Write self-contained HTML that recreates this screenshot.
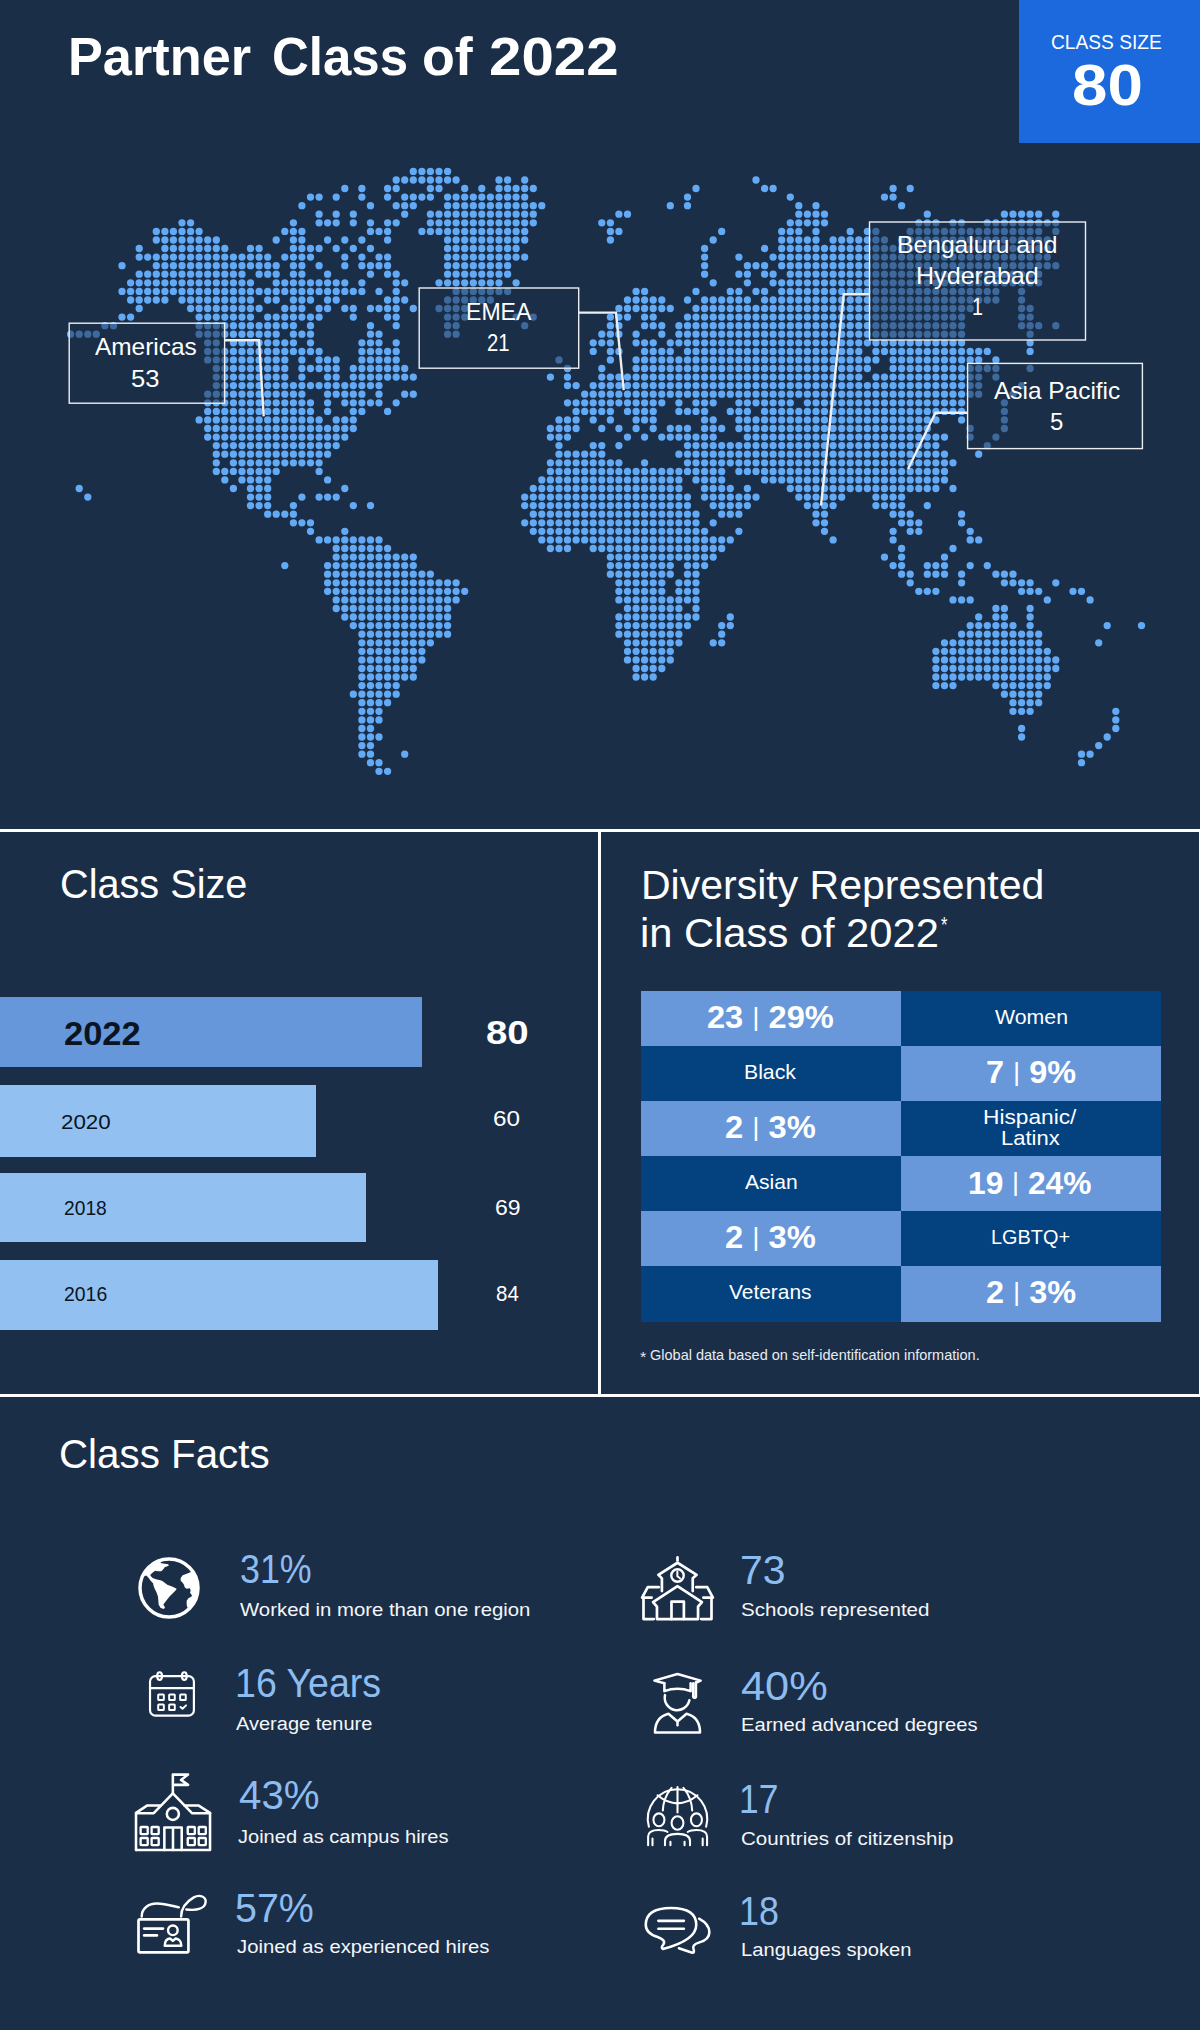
<!DOCTYPE html>
<html><head><meta charset="utf-8"><title>Partner Class of 2022</title>
<style>
html,body{margin:0;padding:0;}
body{width:1200px;height:2030px;position:relative;overflow:hidden;background:#1b2e48;font-family:"Liberation Sans",sans-serif;}
.t{position:absolute;line-height:1;white-space:nowrap;transform-origin:0 0;}
.r{position:absolute;}
.map{position:absolute;left:0;top:0;}
.ic{position:absolute;left:0;top:0;}
</style></head><body>
<div class="r" style="left:1019px;top:0px;width:181px;height:143px;background:#1b69dd;"></div>
<svg class="map" width="1200" height="830" viewBox="0 0 1200 830">
<path d="M413.3 171.4h0M421.9 171.4h0M430.4 171.4h0M439.0 171.4h0M447.6 171.4h0M396.2 180.0h0M404.7 180.0h0M413.3 180.0h0M421.9 180.0h0M430.4 180.0h0M439.0 180.0h0M447.6 180.0h0M456.1 180.0h0M499.0 180.0h0M507.6 180.0h0M524.7 180.0h0M756.0 180.0h0M344.8 188.5h0M361.9 188.5h0M387.6 188.5h0M396.2 188.5h0M430.4 188.5h0M439.0 188.5h0M464.7 188.5h0M481.8 188.5h0M499.0 188.5h0M507.6 188.5h0M516.1 188.5h0M524.7 188.5h0M533.3 188.5h0M696.0 188.5h0M764.6 188.5h0M773.1 188.5h0M893.1 188.5h0M910.2 188.5h0M310.5 197.1h0M319.1 197.1h0M336.2 197.1h0M361.9 197.1h0M387.6 197.1h0M404.7 197.1h0M413.3 197.1h0M421.9 197.1h0M430.4 197.1h0M447.6 197.1h0M456.1 197.1h0M464.7 197.1h0M473.3 197.1h0M481.8 197.1h0M490.4 197.1h0M499.0 197.1h0M507.6 197.1h0M516.1 197.1h0M524.7 197.1h0M687.5 197.1h0M790.3 197.1h0M884.5 197.1h0M893.1 197.1h0M301.9 205.7h0M370.5 205.7h0M396.2 205.7h0M404.7 205.7h0M413.3 205.7h0M447.6 205.7h0M456.1 205.7h0M464.7 205.7h0M473.3 205.7h0M481.8 205.7h0M490.4 205.7h0M499.0 205.7h0M507.6 205.7h0M516.1 205.7h0M524.7 205.7h0M533.3 205.7h0M541.8 205.7h0M670.3 205.7h0M687.5 205.7h0M798.8 205.7h0M816.0 205.7h0M901.6 205.7h0M319.1 214.2h0M336.2 214.2h0M353.3 214.2h0M404.7 214.2h0M430.4 214.2h0M439.0 214.2h0M447.6 214.2h0M456.1 214.2h0M464.7 214.2h0M473.3 214.2h0M481.8 214.2h0M490.4 214.2h0M499.0 214.2h0M507.6 214.2h0M516.1 214.2h0M524.7 214.2h0M533.3 214.2h0M618.9 214.2h0M627.5 214.2h0M798.8 214.2h0M807.4 214.2h0M816.0 214.2h0M824.5 214.2h0M927.3 214.2h0M1004.4 214.2h0M1013.0 214.2h0M1021.6 214.2h0M1030.1 214.2h0M1038.7 214.2h0M1055.8 214.2h0M182.0 222.8h0M190.6 222.8h0M293.4 222.8h0M319.1 222.8h0M327.6 222.8h0M336.2 222.8h0M353.3 222.8h0M370.5 222.8h0M387.6 222.8h0M396.2 222.8h0M430.4 222.8h0M439.0 222.8h0M447.6 222.8h0M456.1 222.8h0M464.7 222.8h0M473.3 222.8h0M481.8 222.8h0M490.4 222.8h0M499.0 222.8h0M507.6 222.8h0M516.1 222.8h0M524.7 222.8h0M533.3 222.8h0M601.8 222.8h0M610.4 222.8h0M790.3 222.8h0M798.8 222.8h0M807.4 222.8h0M816.0 222.8h0M824.5 222.8h0M918.8 222.8h0M927.3 222.8h0M935.9 222.8h0M953.0 222.8h0M961.6 222.8h0M987.3 222.8h0M995.9 222.8h0M1004.4 222.8h0M1013.0 222.8h0M1021.6 222.8h0M1030.1 222.8h0M1038.7 222.8h0M1047.3 222.8h0M1055.8 222.8h0M156.3 231.4h0M164.9 231.4h0M173.4 231.4h0M182.0 231.4h0M190.6 231.4h0M199.1 231.4h0M284.8 231.4h0M293.4 231.4h0M301.9 231.4h0M370.5 231.4h0M379.0 231.4h0M387.6 231.4h0M421.9 231.4h0M430.4 231.4h0M439.0 231.4h0M447.6 231.4h0M456.1 231.4h0M464.7 231.4h0M473.3 231.4h0M481.8 231.4h0M490.4 231.4h0M499.0 231.4h0M507.6 231.4h0M516.1 231.4h0M524.7 231.4h0M610.4 231.4h0M618.9 231.4h0M721.7 231.4h0M781.7 231.4h0M790.3 231.4h0M798.8 231.4h0M816.0 231.4h0M850.2 231.4h0M867.4 231.4h0M875.9 231.4h0M910.2 231.4h0M918.8 231.4h0M927.3 231.4h0M935.9 231.4h0M944.5 231.4h0M953.0 231.4h0M961.6 231.4h0M970.2 231.4h0M978.7 231.4h0M987.3 231.4h0M995.9 231.4h0M1004.4 231.4h0M1013.0 231.4h0M1021.6 231.4h0M1030.1 231.4h0M1038.7 231.4h0M1055.8 231.4h0M156.3 240.0h0M164.9 240.0h0M173.4 240.0h0M182.0 240.0h0M190.6 240.0h0M199.1 240.0h0M207.7 240.0h0M216.3 240.0h0M276.2 240.0h0M293.4 240.0h0M301.9 240.0h0M327.6 240.0h0M344.8 240.0h0M361.9 240.0h0M387.6 240.0h0M447.6 240.0h0M456.1 240.0h0M464.7 240.0h0M473.3 240.0h0M481.8 240.0h0M490.4 240.0h0M499.0 240.0h0M507.6 240.0h0M516.1 240.0h0M524.7 240.0h0M610.4 240.0h0M713.2 240.0h0M781.7 240.0h0M790.3 240.0h0M798.8 240.0h0M807.4 240.0h0M816.0 240.0h0M833.1 240.0h0M841.7 240.0h0M850.2 240.0h0M858.8 240.0h0M867.4 240.0h0M875.9 240.0h0M884.5 240.0h0M901.6 240.0h0M910.2 240.0h0M918.8 240.0h0M927.3 240.0h0M935.9 240.0h0M944.5 240.0h0M953.0 240.0h0M961.6 240.0h0M970.2 240.0h0M978.7 240.0h0M987.3 240.0h0M995.9 240.0h0M1004.4 240.0h0M1013.0 240.0h0M1021.6 240.0h0M1030.1 240.0h0M1038.7 240.0h0M1047.3 240.0h0M139.2 248.5h0M164.9 248.5h0M173.4 248.5h0M182.0 248.5h0M190.6 248.5h0M199.1 248.5h0M207.7 248.5h0M216.3 248.5h0M224.8 248.5h0M250.5 248.5h0M259.1 248.5h0M293.4 248.5h0M301.9 248.5h0M310.5 248.5h0M319.1 248.5h0M336.2 248.5h0M353.3 248.5h0M370.5 248.5h0M447.6 248.5h0M456.1 248.5h0M464.7 248.5h0M473.3 248.5h0M481.8 248.5h0M490.4 248.5h0M499.0 248.5h0M507.6 248.5h0M516.1 248.5h0M704.6 248.5h0M764.6 248.5h0M781.7 248.5h0M790.3 248.5h0M798.8 248.5h0M807.4 248.5h0M816.0 248.5h0M824.5 248.5h0M833.1 248.5h0M841.7 248.5h0M850.2 248.5h0M858.8 248.5h0M867.4 248.5h0M875.9 248.5h0M884.5 248.5h0M893.1 248.5h0M901.6 248.5h0M910.2 248.5h0M918.8 248.5h0M927.3 248.5h0M935.9 248.5h0M944.5 248.5h0M953.0 248.5h0M961.6 248.5h0M970.2 248.5h0M978.7 248.5h0M987.3 248.5h0M995.9 248.5h0M1004.4 248.5h0M1013.0 248.5h0M1021.6 248.5h0M1030.1 248.5h0M1038.7 248.5h0M1047.3 248.5h0M139.2 257.1h0M147.7 257.1h0M156.3 257.1h0M164.9 257.1h0M173.4 257.1h0M182.0 257.1h0M190.6 257.1h0M199.1 257.1h0M207.7 257.1h0M216.3 257.1h0M224.8 257.1h0M233.4 257.1h0M242.0 257.1h0M250.5 257.1h0M259.1 257.1h0M267.7 257.1h0M284.8 257.1h0M293.4 257.1h0M301.9 257.1h0M310.5 257.1h0M344.8 257.1h0M361.9 257.1h0M379.0 257.1h0M387.6 257.1h0M447.6 257.1h0M456.1 257.1h0M464.7 257.1h0M473.3 257.1h0M481.8 257.1h0M490.4 257.1h0M499.0 257.1h0M507.6 257.1h0M516.1 257.1h0M524.7 257.1h0M704.6 257.1h0M738.9 257.1h0M773.1 257.1h0M781.7 257.1h0M790.3 257.1h0M798.8 257.1h0M807.4 257.1h0M816.0 257.1h0M824.5 257.1h0M833.1 257.1h0M841.7 257.1h0M850.2 257.1h0M858.8 257.1h0M867.4 257.1h0M875.9 257.1h0M884.5 257.1h0M893.1 257.1h0M901.6 257.1h0M910.2 257.1h0M918.8 257.1h0M927.3 257.1h0M935.9 257.1h0M944.5 257.1h0M953.0 257.1h0M961.6 257.1h0M970.2 257.1h0M978.7 257.1h0M987.3 257.1h0M995.9 257.1h0M1004.4 257.1h0M1013.0 257.1h0M1021.6 257.1h0M1030.1 257.1h0M1038.7 257.1h0M1047.3 257.1h0M122.0 265.7h0M156.3 265.7h0M164.9 265.7h0M173.4 265.7h0M182.0 265.7h0M190.6 265.7h0M199.1 265.7h0M207.7 265.7h0M216.3 265.7h0M224.8 265.7h0M233.4 265.7h0M242.0 265.7h0M250.5 265.7h0M259.1 265.7h0M267.7 265.7h0M276.2 265.7h0M293.4 265.7h0M301.9 265.7h0M319.1 265.7h0M344.8 265.7h0M361.9 265.7h0M370.5 265.7h0M379.0 265.7h0M387.6 265.7h0M447.6 265.7h0M456.1 265.7h0M464.7 265.7h0M473.3 265.7h0M481.8 265.7h0M490.4 265.7h0M499.0 265.7h0M507.6 265.7h0M704.6 265.7h0M747.4 265.7h0M756.0 265.7h0M764.6 265.7h0M781.7 265.7h0M790.3 265.7h0M798.8 265.7h0M807.4 265.7h0M816.0 265.7h0M824.5 265.7h0M833.1 265.7h0M841.7 265.7h0M850.2 265.7h0M858.8 265.7h0M867.4 265.7h0M875.9 265.7h0M884.5 265.7h0M893.1 265.7h0M901.6 265.7h0M910.2 265.7h0M918.8 265.7h0M927.3 265.7h0M935.9 265.7h0M944.5 265.7h0M953.0 265.7h0M961.6 265.7h0M970.2 265.7h0M978.7 265.7h0M987.3 265.7h0M995.9 265.7h0M1004.4 265.7h0M1013.0 265.7h0M1021.6 265.7h0M1030.1 265.7h0M1038.7 265.7h0M1047.3 265.7h0M1055.8 265.7h0M139.2 274.2h0M147.7 274.2h0M156.3 274.2h0M164.9 274.2h0M173.4 274.2h0M182.0 274.2h0M190.6 274.2h0M199.1 274.2h0M207.7 274.2h0M216.3 274.2h0M224.8 274.2h0M233.4 274.2h0M242.0 274.2h0M259.1 274.2h0M267.7 274.2h0M276.2 274.2h0M293.4 274.2h0M301.9 274.2h0M327.6 274.2h0M370.5 274.2h0M387.6 274.2h0M396.2 274.2h0M447.6 274.2h0M456.1 274.2h0M464.7 274.2h0M473.3 274.2h0M481.8 274.2h0M490.4 274.2h0M499.0 274.2h0M507.6 274.2h0M704.6 274.2h0M738.9 274.2h0M747.4 274.2h0M764.6 274.2h0M773.1 274.2h0M790.3 274.2h0M798.8 274.2h0M807.4 274.2h0M816.0 274.2h0M824.5 274.2h0M833.1 274.2h0M841.7 274.2h0M850.2 274.2h0M858.8 274.2h0M867.4 274.2h0M875.9 274.2h0M884.5 274.2h0M893.1 274.2h0M901.6 274.2h0M910.2 274.2h0M918.8 274.2h0M927.3 274.2h0M935.9 274.2h0M944.5 274.2h0M953.0 274.2h0M961.6 274.2h0M970.2 274.2h0M978.7 274.2h0M987.3 274.2h0M995.9 274.2h0M1004.4 274.2h0M1013.0 274.2h0M1021.6 274.2h0M1030.1 274.2h0M1038.7 274.2h0M130.6 282.8h0M139.2 282.8h0M147.7 282.8h0M156.3 282.8h0M164.9 282.8h0M173.4 282.8h0M182.0 282.8h0M190.6 282.8h0M199.1 282.8h0M207.7 282.8h0M216.3 282.8h0M224.8 282.8h0M233.4 282.8h0M242.0 282.8h0M250.5 282.8h0M276.2 282.8h0M284.8 282.8h0M293.4 282.8h0M301.9 282.8h0M310.5 282.8h0M319.1 282.8h0M327.6 282.8h0M336.2 282.8h0M344.8 282.8h0M361.9 282.8h0M396.2 282.8h0M404.7 282.8h0M439.0 282.8h0M447.6 282.8h0M456.1 282.8h0M464.7 282.8h0M473.3 282.8h0M481.8 282.8h0M490.4 282.8h0M499.0 282.8h0M516.1 282.8h0M713.2 282.8h0M747.4 282.8h0M773.1 282.8h0M781.7 282.8h0M790.3 282.8h0M798.8 282.8h0M807.4 282.8h0M816.0 282.8h0M824.5 282.8h0M833.1 282.8h0M841.7 282.8h0M850.2 282.8h0M858.8 282.8h0M867.4 282.8h0M875.9 282.8h0M884.5 282.8h0M893.1 282.8h0M901.6 282.8h0M910.2 282.8h0M918.8 282.8h0M927.3 282.8h0M935.9 282.8h0M944.5 282.8h0M953.0 282.8h0M961.6 282.8h0M970.2 282.8h0M978.7 282.8h0M987.3 282.8h0M995.9 282.8h0M1004.4 282.8h0M1013.0 282.8h0M1021.6 282.8h0M1030.1 282.8h0M1038.7 282.8h0M122.0 291.4h0M130.6 291.4h0M139.2 291.4h0M147.7 291.4h0M156.3 291.4h0M164.9 291.4h0M173.4 291.4h0M182.0 291.4h0M190.6 291.4h0M199.1 291.4h0M207.7 291.4h0M216.3 291.4h0M224.8 291.4h0M233.4 291.4h0M242.0 291.4h0M250.5 291.4h0M259.1 291.4h0M267.7 291.4h0M276.2 291.4h0M284.8 291.4h0M293.4 291.4h0M301.9 291.4h0M310.5 291.4h0M319.1 291.4h0M327.6 291.4h0M336.2 291.4h0M344.8 291.4h0M353.3 291.4h0M361.9 291.4h0M379.0 291.4h0M396.2 291.4h0M456.1 291.4h0M464.7 291.4h0M473.3 291.4h0M481.8 291.4h0M490.4 291.4h0M499.0 291.4h0M507.6 291.4h0M636.1 291.4h0M644.6 291.4h0M696.0 291.4h0M730.3 291.4h0M738.9 291.4h0M756.0 291.4h0M764.6 291.4h0M781.7 291.4h0M790.3 291.4h0M798.8 291.4h0M807.4 291.4h0M816.0 291.4h0M824.5 291.4h0M833.1 291.4h0M841.7 291.4h0M850.2 291.4h0M858.8 291.4h0M867.4 291.4h0M875.9 291.4h0M884.5 291.4h0M893.1 291.4h0M901.6 291.4h0M910.2 291.4h0M918.8 291.4h0M927.3 291.4h0M935.9 291.4h0M944.5 291.4h0M953.0 291.4h0M961.6 291.4h0M970.2 291.4h0M978.7 291.4h0M987.3 291.4h0M995.9 291.4h0M1021.6 291.4h0M130.6 300.0h0M139.2 300.0h0M147.7 300.0h0M156.3 300.0h0M164.9 300.0h0M182.0 300.0h0M190.6 300.0h0M199.1 300.0h0M207.7 300.0h0M216.3 300.0h0M224.8 300.0h0M233.4 300.0h0M242.0 300.0h0M250.5 300.0h0M267.7 300.0h0M276.2 300.0h0M293.4 300.0h0M301.9 300.0h0M310.5 300.0h0M327.6 300.0h0M336.2 300.0h0M387.6 300.0h0M396.2 300.0h0M404.7 300.0h0M447.6 300.0h0M456.1 300.0h0M464.7 300.0h0M473.3 300.0h0M481.8 300.0h0M490.4 300.0h0M627.5 300.0h0M636.1 300.0h0M644.6 300.0h0M653.2 300.0h0M661.8 300.0h0M687.5 300.0h0M704.6 300.0h0M713.2 300.0h0M721.7 300.0h0M730.3 300.0h0M738.9 300.0h0M747.4 300.0h0M764.6 300.0h0M773.1 300.0h0M781.7 300.0h0M790.3 300.0h0M798.8 300.0h0M807.4 300.0h0M816.0 300.0h0M824.5 300.0h0M833.1 300.0h0M841.7 300.0h0M850.2 300.0h0M858.8 300.0h0M867.4 300.0h0M875.9 300.0h0M884.5 300.0h0M893.1 300.0h0M901.6 300.0h0M910.2 300.0h0M918.8 300.0h0M927.3 300.0h0M935.9 300.0h0M944.5 300.0h0M953.0 300.0h0M961.6 300.0h0M970.2 300.0h0M978.7 300.0h0M987.3 300.0h0M995.9 300.0h0M1021.6 300.0h0M139.2 308.5h0M190.6 308.5h0M199.1 308.5h0M207.7 308.5h0M216.3 308.5h0M224.8 308.5h0M233.4 308.5h0M242.0 308.5h0M250.5 308.5h0M259.1 308.5h0M284.8 308.5h0M293.4 308.5h0M301.9 308.5h0M319.1 308.5h0M327.6 308.5h0M344.8 308.5h0M353.3 308.5h0M370.5 308.5h0M379.0 308.5h0M387.6 308.5h0M396.2 308.5h0M413.3 308.5h0M439.0 308.5h0M447.6 308.5h0M456.1 308.5h0M464.7 308.5h0M618.9 308.5h0M627.5 308.5h0M636.1 308.5h0M644.6 308.5h0M653.2 308.5h0M661.8 308.5h0M670.3 308.5h0M696.0 308.5h0M704.6 308.5h0M713.2 308.5h0M721.7 308.5h0M730.3 308.5h0M738.9 308.5h0M747.4 308.5h0M756.0 308.5h0M764.6 308.5h0M773.1 308.5h0M781.7 308.5h0M790.3 308.5h0M798.8 308.5h0M807.4 308.5h0M816.0 308.5h0M824.5 308.5h0M833.1 308.5h0M841.7 308.5h0M850.2 308.5h0M858.8 308.5h0M867.4 308.5h0M875.9 308.5h0M884.5 308.5h0M893.1 308.5h0M901.6 308.5h0M910.2 308.5h0M918.8 308.5h0M927.3 308.5h0M935.9 308.5h0M944.5 308.5h0M953.0 308.5h0M961.6 308.5h0M970.2 308.5h0M1021.6 308.5h0M1030.1 308.5h0M122.0 317.1h0M130.6 317.1h0M199.1 317.1h0M207.7 317.1h0M216.3 317.1h0M224.8 317.1h0M233.4 317.1h0M242.0 317.1h0M250.5 317.1h0M267.7 317.1h0M276.2 317.1h0M284.8 317.1h0M293.4 317.1h0M301.9 317.1h0M310.5 317.1h0M319.1 317.1h0M353.3 317.1h0M387.6 317.1h0M396.2 317.1h0M447.6 317.1h0M456.1 317.1h0M464.7 317.1h0M516.1 317.1h0M533.3 317.1h0M610.4 317.1h0M618.9 317.1h0M627.5 317.1h0M644.6 317.1h0M653.2 317.1h0M687.5 317.1h0M696.0 317.1h0M704.6 317.1h0M713.2 317.1h0M721.7 317.1h0M730.3 317.1h0M738.9 317.1h0M747.4 317.1h0M756.0 317.1h0M764.6 317.1h0M773.1 317.1h0M781.7 317.1h0M790.3 317.1h0M798.8 317.1h0M807.4 317.1h0M816.0 317.1h0M824.5 317.1h0M833.1 317.1h0M841.7 317.1h0M850.2 317.1h0M858.8 317.1h0M867.4 317.1h0M875.9 317.1h0M884.5 317.1h0M893.1 317.1h0M901.6 317.1h0M910.2 317.1h0M918.8 317.1h0M927.3 317.1h0M935.9 317.1h0M944.5 317.1h0M953.0 317.1h0M961.6 317.1h0M1021.6 317.1h0M1030.1 317.1h0M104.9 325.7h0M113.5 325.7h0M199.1 325.7h0M207.7 325.7h0M216.3 325.7h0M224.8 325.7h0M233.4 325.7h0M242.0 325.7h0M250.5 325.7h0M259.1 325.7h0M267.7 325.7h0M276.2 325.7h0M284.8 325.7h0M293.4 325.7h0M310.5 325.7h0M370.5 325.7h0M396.2 325.7h0M447.6 325.7h0M456.1 325.7h0M524.7 325.7h0M610.4 325.7h0M618.9 325.7h0M644.6 325.7h0M653.2 325.7h0M661.8 325.7h0M678.9 325.7h0M687.5 325.7h0M696.0 325.7h0M704.6 325.7h0M713.2 325.7h0M721.7 325.7h0M730.3 325.7h0M738.9 325.7h0M747.4 325.7h0M756.0 325.7h0M764.6 325.7h0M773.1 325.7h0M781.7 325.7h0M790.3 325.7h0M798.8 325.7h0M807.4 325.7h0M816.0 325.7h0M824.5 325.7h0M833.1 325.7h0M841.7 325.7h0M850.2 325.7h0M858.8 325.7h0M867.4 325.7h0M875.9 325.7h0M884.5 325.7h0M893.1 325.7h0M901.6 325.7h0M910.2 325.7h0M918.8 325.7h0M927.3 325.7h0M935.9 325.7h0M944.5 325.7h0M953.0 325.7h0M961.6 325.7h0M1021.6 325.7h0M1030.1 325.7h0M1038.7 325.7h0M1055.8 325.7h0M70.6 334.2h0M79.2 334.2h0M87.8 334.2h0M96.3 334.2h0M199.1 334.2h0M207.7 334.2h0M216.3 334.2h0M224.8 334.2h0M233.4 334.2h0M242.0 334.2h0M250.5 334.2h0M259.1 334.2h0M267.7 334.2h0M276.2 334.2h0M293.4 334.2h0M301.9 334.2h0M310.5 334.2h0M370.5 334.2h0M379.0 334.2h0M447.6 334.2h0M456.1 334.2h0M601.8 334.2h0M610.4 334.2h0M618.9 334.2h0M636.1 334.2h0M661.8 334.2h0M678.9 334.2h0M687.5 334.2h0M696.0 334.2h0M704.6 334.2h0M713.2 334.2h0M721.7 334.2h0M730.3 334.2h0M738.9 334.2h0M747.4 334.2h0M756.0 334.2h0M764.6 334.2h0M773.1 334.2h0M781.7 334.2h0M790.3 334.2h0M798.8 334.2h0M807.4 334.2h0M816.0 334.2h0M824.5 334.2h0M833.1 334.2h0M841.7 334.2h0M850.2 334.2h0M858.8 334.2h0M867.4 334.2h0M875.9 334.2h0M884.5 334.2h0M893.1 334.2h0M901.6 334.2h0M910.2 334.2h0M918.8 334.2h0M927.3 334.2h0M935.9 334.2h0M944.5 334.2h0M953.0 334.2h0M961.6 334.2h0M1030.1 334.2h0M207.7 342.8h0M216.3 342.8h0M233.4 342.8h0M242.0 342.8h0M250.5 342.8h0M259.1 342.8h0M267.7 342.8h0M276.2 342.8h0M284.8 342.8h0M293.4 342.8h0M310.5 342.8h0M361.9 342.8h0M370.5 342.8h0M379.0 342.8h0M396.2 342.8h0M593.2 342.8h0M601.8 342.8h0M610.4 342.8h0M636.1 342.8h0M644.6 342.8h0M653.2 342.8h0M670.3 342.8h0M678.9 342.8h0M687.5 342.8h0M696.0 342.8h0M704.6 342.8h0M713.2 342.8h0M721.7 342.8h0M730.3 342.8h0M738.9 342.8h0M747.4 342.8h0M756.0 342.8h0M764.6 342.8h0M773.1 342.8h0M781.7 342.8h0M790.3 342.8h0M798.8 342.8h0M807.4 342.8h0M816.0 342.8h0M824.5 342.8h0M833.1 342.8h0M841.7 342.8h0M850.2 342.8h0M858.8 342.8h0M867.4 342.8h0M875.9 342.8h0M884.5 342.8h0M893.1 342.8h0M901.6 342.8h0M910.2 342.8h0M918.8 342.8h0M927.3 342.8h0M935.9 342.8h0M944.5 342.8h0M953.0 342.8h0M961.6 342.8h0M1030.1 342.8h0M207.7 351.4h0M216.3 351.4h0M224.8 351.4h0M233.4 351.4h0M242.0 351.4h0M250.5 351.4h0M259.1 351.4h0M267.7 351.4h0M276.2 351.4h0M284.8 351.4h0M293.4 351.4h0M301.9 351.4h0M310.5 351.4h0M319.1 351.4h0M361.9 351.4h0M370.5 351.4h0M379.0 351.4h0M387.6 351.4h0M396.2 351.4h0M593.2 351.4h0M610.4 351.4h0M618.9 351.4h0M644.6 351.4h0M653.2 351.4h0M661.8 351.4h0M670.3 351.4h0M687.5 351.4h0M696.0 351.4h0M704.6 351.4h0M713.2 351.4h0M721.7 351.4h0M730.3 351.4h0M738.9 351.4h0M747.4 351.4h0M756.0 351.4h0M764.6 351.4h0M773.1 351.4h0M781.7 351.4h0M790.3 351.4h0M798.8 351.4h0M807.4 351.4h0M816.0 351.4h0M824.5 351.4h0M833.1 351.4h0M841.7 351.4h0M850.2 351.4h0M858.8 351.4h0M875.9 351.4h0M884.5 351.4h0M893.1 351.4h0M901.6 351.4h0M910.2 351.4h0M918.8 351.4h0M927.3 351.4h0M935.9 351.4h0M944.5 351.4h0M953.0 351.4h0M961.6 351.4h0M970.2 351.4h0M978.7 351.4h0M987.3 351.4h0M1030.1 351.4h0M207.7 359.9h0M216.3 359.9h0M224.8 359.9h0M233.4 359.9h0M242.0 359.9h0M250.5 359.9h0M259.1 359.9h0M267.7 359.9h0M276.2 359.9h0M284.8 359.9h0M301.9 359.9h0M319.1 359.9h0M327.6 359.9h0M336.2 359.9h0M361.9 359.9h0M370.5 359.9h0M379.0 359.9h0M387.6 359.9h0M396.2 359.9h0M559.0 359.9h0M610.4 359.9h0M636.1 359.9h0M644.6 359.9h0M653.2 359.9h0M661.8 359.9h0M670.3 359.9h0M678.9 359.9h0M687.5 359.9h0M696.0 359.9h0M704.6 359.9h0M713.2 359.9h0M721.7 359.9h0M730.3 359.9h0M738.9 359.9h0M747.4 359.9h0M756.0 359.9h0M764.6 359.9h0M773.1 359.9h0M781.7 359.9h0M790.3 359.9h0M798.8 359.9h0M807.4 359.9h0M816.0 359.9h0M824.5 359.9h0M833.1 359.9h0M841.7 359.9h0M850.2 359.9h0M858.8 359.9h0M867.4 359.9h0M875.9 359.9h0M893.1 359.9h0M901.6 359.9h0M910.2 359.9h0M918.8 359.9h0M927.3 359.9h0M935.9 359.9h0M944.5 359.9h0M953.0 359.9h0M961.6 359.9h0M970.2 359.9h0M978.7 359.9h0M995.9 359.9h0M216.3 368.5h0M224.8 368.5h0M233.4 368.5h0M242.0 368.5h0M250.5 368.5h0M259.1 368.5h0M267.7 368.5h0M276.2 368.5h0M284.8 368.5h0M301.9 368.5h0M310.5 368.5h0M319.1 368.5h0M327.6 368.5h0M336.2 368.5h0M353.3 368.5h0M361.9 368.5h0M370.5 368.5h0M379.0 368.5h0M387.6 368.5h0M396.2 368.5h0M404.7 368.5h0M567.5 368.5h0M601.8 368.5h0M636.1 368.5h0M644.6 368.5h0M653.2 368.5h0M661.8 368.5h0M670.3 368.5h0M678.9 368.5h0M687.5 368.5h0M696.0 368.5h0M704.6 368.5h0M713.2 368.5h0M721.7 368.5h0M730.3 368.5h0M738.9 368.5h0M747.4 368.5h0M756.0 368.5h0M764.6 368.5h0M773.1 368.5h0M781.7 368.5h0M790.3 368.5h0M798.8 368.5h0M807.4 368.5h0M816.0 368.5h0M824.5 368.5h0M833.1 368.5h0M841.7 368.5h0M850.2 368.5h0M858.8 368.5h0M867.4 368.5h0M893.1 368.5h0M901.6 368.5h0M910.2 368.5h0M918.8 368.5h0M927.3 368.5h0M935.9 368.5h0M944.5 368.5h0M953.0 368.5h0M961.6 368.5h0M970.2 368.5h0M978.7 368.5h0M987.3 368.5h0M995.9 368.5h0M1030.1 368.5h0M216.3 377.1h0M224.8 377.1h0M233.4 377.1h0M242.0 377.1h0M250.5 377.1h0M259.1 377.1h0M267.7 377.1h0M276.2 377.1h0M284.8 377.1h0M301.9 377.1h0M327.6 377.1h0M336.2 377.1h0M353.3 377.1h0M361.9 377.1h0M370.5 377.1h0M379.0 377.1h0M387.6 377.1h0M396.2 377.1h0M404.7 377.1h0M413.3 377.1h0M550.4 377.1h0M567.5 377.1h0M601.8 377.1h0M610.4 377.1h0M618.9 377.1h0M627.5 377.1h0M636.1 377.1h0M644.6 377.1h0M653.2 377.1h0M661.8 377.1h0M670.3 377.1h0M678.9 377.1h0M687.5 377.1h0M696.0 377.1h0M704.6 377.1h0M713.2 377.1h0M721.7 377.1h0M730.3 377.1h0M738.9 377.1h0M747.4 377.1h0M756.0 377.1h0M764.6 377.1h0M773.1 377.1h0M781.7 377.1h0M790.3 377.1h0M798.8 377.1h0M807.4 377.1h0M816.0 377.1h0M824.5 377.1h0M833.1 377.1h0M841.7 377.1h0M850.2 377.1h0M858.8 377.1h0M875.9 377.1h0M884.5 377.1h0M893.1 377.1h0M901.6 377.1h0M910.2 377.1h0M918.8 377.1h0M927.3 377.1h0M935.9 377.1h0M944.5 377.1h0M953.0 377.1h0M961.6 377.1h0M970.2 377.1h0M978.7 377.1h0M995.9 377.1h0M216.3 385.6h0M224.8 385.6h0M233.4 385.6h0M242.0 385.6h0M250.5 385.6h0M259.1 385.6h0M267.7 385.6h0M276.2 385.6h0M284.8 385.6h0M293.4 385.6h0M301.9 385.6h0M310.5 385.6h0M319.1 385.6h0M327.6 385.6h0M336.2 385.6h0M344.8 385.6h0M353.3 385.6h0M361.9 385.6h0M370.5 385.6h0M379.0 385.6h0M567.5 385.6h0M576.1 385.6h0M593.2 385.6h0M601.8 385.6h0M610.4 385.6h0M618.9 385.6h0M627.5 385.6h0M636.1 385.6h0M644.6 385.6h0M653.2 385.6h0M661.8 385.6h0M670.3 385.6h0M678.9 385.6h0M687.5 385.6h0M696.0 385.6h0M704.6 385.6h0M713.2 385.6h0M721.7 385.6h0M730.3 385.6h0M738.9 385.6h0M747.4 385.6h0M756.0 385.6h0M764.6 385.6h0M773.1 385.6h0M781.7 385.6h0M790.3 385.6h0M798.8 385.6h0M807.4 385.6h0M816.0 385.6h0M824.5 385.6h0M833.1 385.6h0M841.7 385.6h0M850.2 385.6h0M858.8 385.6h0M867.4 385.6h0M875.9 385.6h0M884.5 385.6h0M893.1 385.6h0M901.6 385.6h0M910.2 385.6h0M918.8 385.6h0M927.3 385.6h0M935.9 385.6h0M944.5 385.6h0M953.0 385.6h0M961.6 385.6h0M970.2 385.6h0M978.7 385.6h0M1021.6 385.6h0M207.7 394.2h0M216.3 394.2h0M224.8 394.2h0M233.4 394.2h0M242.0 394.2h0M250.5 394.2h0M259.1 394.2h0M267.7 394.2h0M276.2 394.2h0M284.8 394.2h0M293.4 394.2h0M301.9 394.2h0M327.6 394.2h0M336.2 394.2h0M344.8 394.2h0M353.3 394.2h0M361.9 394.2h0M379.0 394.2h0M404.7 394.2h0M413.3 394.2h0M584.7 394.2h0M593.2 394.2h0M601.8 394.2h0M610.4 394.2h0M618.9 394.2h0M627.5 394.2h0M636.1 394.2h0M644.6 394.2h0M653.2 394.2h0M661.8 394.2h0M670.3 394.2h0M678.9 394.2h0M687.5 394.2h0M696.0 394.2h0M704.6 394.2h0M713.2 394.2h0M721.7 394.2h0M730.3 394.2h0M738.9 394.2h0M747.4 394.2h0M756.0 394.2h0M764.6 394.2h0M773.1 394.2h0M781.7 394.2h0M790.3 394.2h0M798.8 394.2h0M807.4 394.2h0M816.0 394.2h0M824.5 394.2h0M833.1 394.2h0M841.7 394.2h0M850.2 394.2h0M858.8 394.2h0M867.4 394.2h0M875.9 394.2h0M884.5 394.2h0M893.1 394.2h0M901.6 394.2h0M910.2 394.2h0M918.8 394.2h0M927.3 394.2h0M935.9 394.2h0M944.5 394.2h0M953.0 394.2h0M961.6 394.2h0M970.2 394.2h0M978.7 394.2h0M1013.0 394.2h0M207.7 402.8h0M216.3 402.8h0M224.8 402.8h0M233.4 402.8h0M242.0 402.8h0M250.5 402.8h0M259.1 402.8h0M267.7 402.8h0M276.2 402.8h0M284.8 402.8h0M293.4 402.8h0M301.9 402.8h0M310.5 402.8h0M327.6 402.8h0M344.8 402.8h0M353.3 402.8h0M361.9 402.8h0M370.5 402.8h0M379.0 402.8h0M396.2 402.8h0M567.5 402.8h0M576.1 402.8h0M584.7 402.8h0M593.2 402.8h0M601.8 402.8h0M610.4 402.8h0M618.9 402.8h0M627.5 402.8h0M636.1 402.8h0M644.6 402.8h0M653.2 402.8h0M661.8 402.8h0M678.9 402.8h0M696.0 402.8h0M704.6 402.8h0M713.2 402.8h0M738.9 402.8h0M747.4 402.8h0M756.0 402.8h0M764.6 402.8h0M773.1 402.8h0M781.7 402.8h0M790.3 402.8h0M807.4 402.8h0M816.0 402.8h0M824.5 402.8h0M833.1 402.8h0M841.7 402.8h0M850.2 402.8h0M858.8 402.8h0M867.4 402.8h0M875.9 402.8h0M884.5 402.8h0M893.1 402.8h0M901.6 402.8h0M910.2 402.8h0M918.8 402.8h0M927.3 402.8h0M935.9 402.8h0M944.5 402.8h0M953.0 402.8h0M961.6 402.8h0M1004.4 402.8h0M207.7 411.4h0M216.3 411.4h0M224.8 411.4h0M233.4 411.4h0M242.0 411.4h0M250.5 411.4h0M259.1 411.4h0M267.7 411.4h0M276.2 411.4h0M284.8 411.4h0M293.4 411.4h0M301.9 411.4h0M310.5 411.4h0M327.6 411.4h0M353.3 411.4h0M361.9 411.4h0M387.6 411.4h0M576.1 411.4h0M584.7 411.4h0M593.2 411.4h0M601.8 411.4h0M610.4 411.4h0M627.5 411.4h0M636.1 411.4h0M644.6 411.4h0M653.2 411.4h0M678.9 411.4h0M687.5 411.4h0M696.0 411.4h0M704.6 411.4h0M730.3 411.4h0M738.9 411.4h0M747.4 411.4h0M764.6 411.4h0M773.1 411.4h0M781.7 411.4h0M790.3 411.4h0M798.8 411.4h0M807.4 411.4h0M816.0 411.4h0M824.5 411.4h0M833.1 411.4h0M841.7 411.4h0M850.2 411.4h0M858.8 411.4h0M867.4 411.4h0M875.9 411.4h0M884.5 411.4h0M893.1 411.4h0M901.6 411.4h0M910.2 411.4h0M918.8 411.4h0M927.3 411.4h0M935.9 411.4h0M944.5 411.4h0M953.0 411.4h0M961.6 411.4h0M1004.4 411.4h0M199.1 419.9h0M207.7 419.9h0M216.3 419.9h0M224.8 419.9h0M233.4 419.9h0M242.0 419.9h0M250.5 419.9h0M259.1 419.9h0M267.7 419.9h0M276.2 419.9h0M284.8 419.9h0M293.4 419.9h0M301.9 419.9h0M310.5 419.9h0M319.1 419.9h0M336.2 419.9h0M344.8 419.9h0M353.3 419.9h0M559.0 419.9h0M567.5 419.9h0M576.1 419.9h0M593.2 419.9h0M610.4 419.9h0M636.1 419.9h0M644.6 419.9h0M653.2 419.9h0M704.6 419.9h0M713.2 419.9h0M738.9 419.9h0M747.4 419.9h0M756.0 419.9h0M764.6 419.9h0M773.1 419.9h0M781.7 419.9h0M790.3 419.9h0M798.8 419.9h0M807.4 419.9h0M816.0 419.9h0M824.5 419.9h0M833.1 419.9h0M841.7 419.9h0M850.2 419.9h0M858.8 419.9h0M867.4 419.9h0M875.9 419.9h0M884.5 419.9h0M893.1 419.9h0M901.6 419.9h0M910.2 419.9h0M918.8 419.9h0M927.3 419.9h0M935.9 419.9h0M961.6 419.9h0M1004.4 419.9h0M207.7 428.5h0M216.3 428.5h0M224.8 428.5h0M233.4 428.5h0M242.0 428.5h0M250.5 428.5h0M259.1 428.5h0M267.7 428.5h0M276.2 428.5h0M284.8 428.5h0M293.4 428.5h0M301.9 428.5h0M310.5 428.5h0M319.1 428.5h0M327.6 428.5h0M336.2 428.5h0M344.8 428.5h0M353.3 428.5h0M550.4 428.5h0M559.0 428.5h0M567.5 428.5h0M576.1 428.5h0M601.8 428.5h0M618.9 428.5h0M636.1 428.5h0M653.2 428.5h0M670.3 428.5h0M678.9 428.5h0M687.5 428.5h0M704.6 428.5h0M713.2 428.5h0M721.7 428.5h0M738.9 428.5h0M747.4 428.5h0M756.0 428.5h0M764.6 428.5h0M773.1 428.5h0M781.7 428.5h0M790.3 428.5h0M798.8 428.5h0M807.4 428.5h0M816.0 428.5h0M824.5 428.5h0M833.1 428.5h0M841.7 428.5h0M850.2 428.5h0M858.8 428.5h0M867.4 428.5h0M875.9 428.5h0M884.5 428.5h0M893.1 428.5h0M901.6 428.5h0M910.2 428.5h0M918.8 428.5h0M927.3 428.5h0M970.2 428.5h0M1004.4 428.5h0M207.7 437.1h0M216.3 437.1h0M224.8 437.1h0M233.4 437.1h0M242.0 437.1h0M250.5 437.1h0M259.1 437.1h0M267.7 437.1h0M276.2 437.1h0M284.8 437.1h0M293.4 437.1h0M301.9 437.1h0M310.5 437.1h0M319.1 437.1h0M327.6 437.1h0M336.2 437.1h0M344.8 437.1h0M550.4 437.1h0M559.0 437.1h0M567.5 437.1h0M627.5 437.1h0M644.6 437.1h0M661.8 437.1h0M670.3 437.1h0M678.9 437.1h0M687.5 437.1h0M696.0 437.1h0M704.6 437.1h0M713.2 437.1h0M747.4 437.1h0M756.0 437.1h0M764.6 437.1h0M773.1 437.1h0M781.7 437.1h0M790.3 437.1h0M798.8 437.1h0M807.4 437.1h0M816.0 437.1h0M824.5 437.1h0M833.1 437.1h0M841.7 437.1h0M850.2 437.1h0M858.8 437.1h0M867.4 437.1h0M875.9 437.1h0M884.5 437.1h0M893.1 437.1h0M901.6 437.1h0M910.2 437.1h0M918.8 437.1h0M927.3 437.1h0M935.9 437.1h0M944.5 437.1h0M970.2 437.1h0M995.9 437.1h0M216.3 445.6h0M224.8 445.6h0M233.4 445.6h0M242.0 445.6h0M250.5 445.6h0M259.1 445.6h0M267.7 445.6h0M276.2 445.6h0M284.8 445.6h0M293.4 445.6h0M301.9 445.6h0M310.5 445.6h0M319.1 445.6h0M327.6 445.6h0M336.2 445.6h0M559.0 445.6h0M593.2 445.6h0M601.8 445.6h0M618.9 445.6h0M687.5 445.6h0M696.0 445.6h0M704.6 445.6h0M713.2 445.6h0M721.7 445.6h0M730.3 445.6h0M738.9 445.6h0M747.4 445.6h0M756.0 445.6h0M764.6 445.6h0M773.1 445.6h0M781.7 445.6h0M790.3 445.6h0M798.8 445.6h0M807.4 445.6h0M816.0 445.6h0M824.5 445.6h0M833.1 445.6h0M841.7 445.6h0M850.2 445.6h0M858.8 445.6h0M867.4 445.6h0M875.9 445.6h0M884.5 445.6h0M893.1 445.6h0M901.6 445.6h0M910.2 445.6h0M918.8 445.6h0M927.3 445.6h0M935.9 445.6h0M987.3 445.6h0M216.3 454.2h0M224.8 454.2h0M233.4 454.2h0M242.0 454.2h0M250.5 454.2h0M259.1 454.2h0M267.7 454.2h0M276.2 454.2h0M284.8 454.2h0M293.4 454.2h0M301.9 454.2h0M310.5 454.2h0M319.1 454.2h0M327.6 454.2h0M559.0 454.2h0M567.5 454.2h0M576.1 454.2h0M584.7 454.2h0M593.2 454.2h0M601.8 454.2h0M678.9 454.2h0M687.5 454.2h0M696.0 454.2h0M704.6 454.2h0M713.2 454.2h0M721.7 454.2h0M730.3 454.2h0M738.9 454.2h0M747.4 454.2h0M756.0 454.2h0M764.6 454.2h0M773.1 454.2h0M781.7 454.2h0M790.3 454.2h0M798.8 454.2h0M807.4 454.2h0M816.0 454.2h0M824.5 454.2h0M833.1 454.2h0M841.7 454.2h0M850.2 454.2h0M858.8 454.2h0M867.4 454.2h0M875.9 454.2h0M884.5 454.2h0M893.1 454.2h0M901.6 454.2h0M910.2 454.2h0M918.8 454.2h0M927.3 454.2h0M935.9 454.2h0M944.5 454.2h0M978.7 454.2h0M216.3 462.8h0M233.4 462.8h0M242.0 462.8h0M250.5 462.8h0M259.1 462.8h0M267.7 462.8h0M276.2 462.8h0M284.8 462.8h0M293.4 462.8h0M301.9 462.8h0M310.5 462.8h0M319.1 462.8h0M550.4 462.8h0M559.0 462.8h0M567.5 462.8h0M576.1 462.8h0M584.7 462.8h0M593.2 462.8h0M601.8 462.8h0M610.4 462.8h0M618.9 462.8h0M644.6 462.8h0M687.5 462.8h0M696.0 462.8h0M704.6 462.8h0M713.2 462.8h0M721.7 462.8h0M730.3 462.8h0M738.9 462.8h0M747.4 462.8h0M756.0 462.8h0M764.6 462.8h0M773.1 462.8h0M781.7 462.8h0M790.3 462.8h0M798.8 462.8h0M807.4 462.8h0M816.0 462.8h0M824.5 462.8h0M833.1 462.8h0M841.7 462.8h0M850.2 462.8h0M858.8 462.8h0M867.4 462.8h0M875.9 462.8h0M884.5 462.8h0M893.1 462.8h0M901.6 462.8h0M910.2 462.8h0M918.8 462.8h0M927.3 462.8h0M935.9 462.8h0M944.5 462.8h0M953.0 462.8h0M216.3 471.4h0M224.8 471.4h0M233.4 471.4h0M242.0 471.4h0M250.5 471.4h0M259.1 471.4h0M267.7 471.4h0M276.2 471.4h0M319.1 471.4h0M550.4 471.4h0M559.0 471.4h0M567.5 471.4h0M576.1 471.4h0M584.7 471.4h0M593.2 471.4h0M601.8 471.4h0M610.4 471.4h0M618.9 471.4h0M627.5 471.4h0M636.1 471.4h0M644.6 471.4h0M653.2 471.4h0M661.8 471.4h0M670.3 471.4h0M678.9 471.4h0M687.5 471.4h0M696.0 471.4h0M704.6 471.4h0M713.2 471.4h0M721.7 471.4h0M738.9 471.4h0M747.4 471.4h0M756.0 471.4h0M764.6 471.4h0M773.1 471.4h0M781.7 471.4h0M790.3 471.4h0M798.8 471.4h0M807.4 471.4h0M816.0 471.4h0M824.5 471.4h0M833.1 471.4h0M841.7 471.4h0M850.2 471.4h0M858.8 471.4h0M867.4 471.4h0M875.9 471.4h0M884.5 471.4h0M893.1 471.4h0M901.6 471.4h0M910.2 471.4h0M918.8 471.4h0M927.3 471.4h0M935.9 471.4h0M944.5 471.4h0M224.8 479.9h0M242.0 479.9h0M250.5 479.9h0M259.1 479.9h0M267.7 479.9h0M327.6 479.9h0M541.8 479.9h0M550.4 479.9h0M559.0 479.9h0M567.5 479.9h0M576.1 479.9h0M584.7 479.9h0M593.2 479.9h0M601.8 479.9h0M610.4 479.9h0M618.9 479.9h0M627.5 479.9h0M636.1 479.9h0M644.6 479.9h0M653.2 479.9h0M661.8 479.9h0M670.3 479.9h0M678.9 479.9h0M696.0 479.9h0M704.6 479.9h0M713.2 479.9h0M721.7 479.9h0M764.6 479.9h0M773.1 479.9h0M781.7 479.9h0M790.3 479.9h0M798.8 479.9h0M807.4 479.9h0M816.0 479.9h0M824.5 479.9h0M833.1 479.9h0M841.7 479.9h0M850.2 479.9h0M858.8 479.9h0M867.4 479.9h0M875.9 479.9h0M884.5 479.9h0M893.1 479.9h0M901.6 479.9h0M910.2 479.9h0M918.8 479.9h0M927.3 479.9h0M935.9 479.9h0M944.5 479.9h0M79.2 488.5h0M233.4 488.5h0M250.5 488.5h0M259.1 488.5h0M267.7 488.5h0M344.8 488.5h0M533.3 488.5h0M541.8 488.5h0M550.4 488.5h0M559.0 488.5h0M567.5 488.5h0M576.1 488.5h0M584.7 488.5h0M593.2 488.5h0M601.8 488.5h0M610.4 488.5h0M618.9 488.5h0M627.5 488.5h0M636.1 488.5h0M644.6 488.5h0M653.2 488.5h0M661.8 488.5h0M670.3 488.5h0M678.9 488.5h0M704.6 488.5h0M713.2 488.5h0M721.7 488.5h0M730.3 488.5h0M747.4 488.5h0M790.3 488.5h0M798.8 488.5h0M807.4 488.5h0M816.0 488.5h0M824.5 488.5h0M833.1 488.5h0M841.7 488.5h0M850.2 488.5h0M858.8 488.5h0M867.4 488.5h0M875.9 488.5h0M884.5 488.5h0M893.1 488.5h0M901.6 488.5h0M910.2 488.5h0M918.8 488.5h0M927.3 488.5h0M935.9 488.5h0M953.0 488.5h0M87.8 497.1h0M250.5 497.1h0M259.1 497.1h0M267.7 497.1h0M301.9 497.1h0M319.1 497.1h0M327.6 497.1h0M336.2 497.1h0M524.7 497.1h0M533.3 497.1h0M541.8 497.1h0M550.4 497.1h0M559.0 497.1h0M567.5 497.1h0M576.1 497.1h0M584.7 497.1h0M593.2 497.1h0M601.8 497.1h0M610.4 497.1h0M618.9 497.1h0M627.5 497.1h0M636.1 497.1h0M644.6 497.1h0M653.2 497.1h0M661.8 497.1h0M670.3 497.1h0M678.9 497.1h0M687.5 497.1h0M704.6 497.1h0M713.2 497.1h0M721.7 497.1h0M730.3 497.1h0M738.9 497.1h0M747.4 497.1h0M756.0 497.1h0M798.8 497.1h0M807.4 497.1h0M816.0 497.1h0M824.5 497.1h0M833.1 497.1h0M841.7 497.1h0M875.9 497.1h0M884.5 497.1h0M893.1 497.1h0M901.6 497.1h0M250.5 505.6h0M259.1 505.6h0M267.7 505.6h0M293.4 505.6h0M353.3 505.6h0M370.5 505.6h0M524.7 505.6h0M533.3 505.6h0M541.8 505.6h0M550.4 505.6h0M559.0 505.6h0M567.5 505.6h0M576.1 505.6h0M584.7 505.6h0M593.2 505.6h0M601.8 505.6h0M610.4 505.6h0M618.9 505.6h0M627.5 505.6h0M636.1 505.6h0M644.6 505.6h0M653.2 505.6h0M661.8 505.6h0M670.3 505.6h0M678.9 505.6h0M687.5 505.6h0M713.2 505.6h0M721.7 505.6h0M730.3 505.6h0M738.9 505.6h0M747.4 505.6h0M807.4 505.6h0M816.0 505.6h0M824.5 505.6h0M833.1 505.6h0M875.9 505.6h0M884.5 505.6h0M893.1 505.6h0M901.6 505.6h0M927.3 505.6h0M267.7 514.2h0M276.2 514.2h0M284.8 514.2h0M293.4 514.2h0M533.3 514.2h0M541.8 514.2h0M550.4 514.2h0M559.0 514.2h0M567.5 514.2h0M576.1 514.2h0M584.7 514.2h0M593.2 514.2h0M601.8 514.2h0M610.4 514.2h0M618.9 514.2h0M627.5 514.2h0M636.1 514.2h0M644.6 514.2h0M653.2 514.2h0M661.8 514.2h0M670.3 514.2h0M678.9 514.2h0M687.5 514.2h0M696.0 514.2h0M721.7 514.2h0M730.3 514.2h0M738.9 514.2h0M816.0 514.2h0M824.5 514.2h0M893.1 514.2h0M901.6 514.2h0M910.2 514.2h0M961.6 514.2h0M293.4 522.8h0M301.9 522.8h0M310.5 522.8h0M524.7 522.8h0M533.3 522.8h0M541.8 522.8h0M550.4 522.8h0M559.0 522.8h0M567.5 522.8h0M576.1 522.8h0M584.7 522.8h0M593.2 522.8h0M601.8 522.8h0M610.4 522.8h0M618.9 522.8h0M627.5 522.8h0M636.1 522.8h0M644.6 522.8h0M653.2 522.8h0M661.8 522.8h0M670.3 522.8h0M678.9 522.8h0M687.5 522.8h0M696.0 522.8h0M713.2 522.8h0M816.0 522.8h0M824.5 522.8h0M901.6 522.8h0M910.2 522.8h0M918.8 522.8h0M961.6 522.8h0M310.5 531.3h0M344.8 531.3h0M533.3 531.3h0M541.8 531.3h0M550.4 531.3h0M559.0 531.3h0M567.5 531.3h0M576.1 531.3h0M584.7 531.3h0M593.2 531.3h0M601.8 531.3h0M610.4 531.3h0M618.9 531.3h0M627.5 531.3h0M636.1 531.3h0M644.6 531.3h0M653.2 531.3h0M661.8 531.3h0M670.3 531.3h0M678.9 531.3h0M687.5 531.3h0M696.0 531.3h0M704.6 531.3h0M738.9 531.3h0M824.5 531.3h0M893.1 531.3h0M910.2 531.3h0M918.8 531.3h0M970.2 531.3h0M319.1 539.9h0M327.6 539.9h0M336.2 539.9h0M344.8 539.9h0M353.3 539.9h0M361.9 539.9h0M370.5 539.9h0M379.0 539.9h0M541.8 539.9h0M550.4 539.9h0M559.0 539.9h0M567.5 539.9h0M576.1 539.9h0M584.7 539.9h0M593.2 539.9h0M601.8 539.9h0M610.4 539.9h0M618.9 539.9h0M627.5 539.9h0M636.1 539.9h0M644.6 539.9h0M653.2 539.9h0M661.8 539.9h0M670.3 539.9h0M678.9 539.9h0M687.5 539.9h0M696.0 539.9h0M704.6 539.9h0M713.2 539.9h0M721.7 539.9h0M730.3 539.9h0M833.1 539.9h0M893.1 539.9h0M970.2 539.9h0M978.7 539.9h0M336.2 548.5h0M344.8 548.5h0M353.3 548.5h0M361.9 548.5h0M370.5 548.5h0M379.0 548.5h0M387.6 548.5h0M550.4 548.5h0M559.0 548.5h0M567.5 548.5h0M593.2 548.5h0M601.8 548.5h0M610.4 548.5h0M618.9 548.5h0M627.5 548.5h0M636.1 548.5h0M644.6 548.5h0M653.2 548.5h0M661.8 548.5h0M670.3 548.5h0M678.9 548.5h0M687.5 548.5h0M696.0 548.5h0M704.6 548.5h0M713.2 548.5h0M721.7 548.5h0M901.6 548.5h0M953.0 548.5h0M336.2 557.1h0M344.8 557.1h0M353.3 557.1h0M361.9 557.1h0M370.5 557.1h0M379.0 557.1h0M387.6 557.1h0M396.2 557.1h0M404.7 557.1h0M413.3 557.1h0M610.4 557.1h0M618.9 557.1h0M627.5 557.1h0M636.1 557.1h0M644.6 557.1h0M653.2 557.1h0M661.8 557.1h0M670.3 557.1h0M678.9 557.1h0M687.5 557.1h0M696.0 557.1h0M704.6 557.1h0M713.2 557.1h0M884.5 557.1h0M901.6 557.1h0M944.5 557.1h0M284.8 565.6h0M327.6 565.6h0M336.2 565.6h0M344.8 565.6h0M353.3 565.6h0M361.9 565.6h0M370.5 565.6h0M379.0 565.6h0M387.6 565.6h0M396.2 565.6h0M404.7 565.6h0M413.3 565.6h0M610.4 565.6h0M618.9 565.6h0M627.5 565.6h0M636.1 565.6h0M644.6 565.6h0M653.2 565.6h0M661.8 565.6h0M670.3 565.6h0M687.5 565.6h0M696.0 565.6h0M704.6 565.6h0M893.1 565.6h0M901.6 565.6h0M927.3 565.6h0M935.9 565.6h0M944.5 565.6h0M970.2 565.6h0M987.3 565.6h0M327.6 574.2h0M336.2 574.2h0M344.8 574.2h0M353.3 574.2h0M361.9 574.2h0M370.5 574.2h0M379.0 574.2h0M387.6 574.2h0M396.2 574.2h0M404.7 574.2h0M413.3 574.2h0M421.9 574.2h0M430.4 574.2h0M610.4 574.2h0M618.9 574.2h0M627.5 574.2h0M636.1 574.2h0M644.6 574.2h0M653.2 574.2h0M661.8 574.2h0M670.3 574.2h0M687.5 574.2h0M696.0 574.2h0M901.6 574.2h0M910.2 574.2h0M927.3 574.2h0M935.9 574.2h0M944.5 574.2h0M961.6 574.2h0M995.9 574.2h0M1004.4 574.2h0M1013.0 574.2h0M327.6 582.8h0M336.2 582.8h0M344.8 582.8h0M353.3 582.8h0M361.9 582.8h0M370.5 582.8h0M379.0 582.8h0M387.6 582.8h0M396.2 582.8h0M404.7 582.8h0M413.3 582.8h0M421.9 582.8h0M430.4 582.8h0M439.0 582.8h0M447.6 582.8h0M456.1 582.8h0M618.9 582.8h0M627.5 582.8h0M636.1 582.8h0M644.6 582.8h0M653.2 582.8h0M661.8 582.8h0M678.9 582.8h0M687.5 582.8h0M696.0 582.8h0M910.2 582.8h0M961.6 582.8h0M1004.4 582.8h0M1013.0 582.8h0M1021.6 582.8h0M1030.1 582.8h0M1055.8 582.8h0M327.6 591.3h0M336.2 591.3h0M344.8 591.3h0M353.3 591.3h0M361.9 591.3h0M370.5 591.3h0M379.0 591.3h0M387.6 591.3h0M396.2 591.3h0M404.7 591.3h0M413.3 591.3h0M421.9 591.3h0M430.4 591.3h0M439.0 591.3h0M447.6 591.3h0M456.1 591.3h0M464.7 591.3h0M618.9 591.3h0M627.5 591.3h0M636.1 591.3h0M644.6 591.3h0M653.2 591.3h0M661.8 591.3h0M678.9 591.3h0M687.5 591.3h0M696.0 591.3h0M918.8 591.3h0M927.3 591.3h0M935.9 591.3h0M1021.6 591.3h0M1030.1 591.3h0M1038.7 591.3h0M1073.0 591.3h0M1081.5 591.3h0M336.2 599.9h0M344.8 599.9h0M353.3 599.9h0M361.9 599.9h0M370.5 599.9h0M379.0 599.9h0M387.6 599.9h0M396.2 599.9h0M404.7 599.9h0M413.3 599.9h0M421.9 599.9h0M430.4 599.9h0M439.0 599.9h0M447.6 599.9h0M456.1 599.9h0M618.9 599.9h0M627.5 599.9h0M636.1 599.9h0M644.6 599.9h0M653.2 599.9h0M661.8 599.9h0M670.3 599.9h0M678.9 599.9h0M687.5 599.9h0M696.0 599.9h0M953.0 599.9h0M961.6 599.9h0M970.2 599.9h0M1047.3 599.9h0M1090.1 599.9h0M336.2 608.5h0M344.8 608.5h0M353.3 608.5h0M361.9 608.5h0M370.5 608.5h0M379.0 608.5h0M387.6 608.5h0M396.2 608.5h0M404.7 608.5h0M413.3 608.5h0M421.9 608.5h0M430.4 608.5h0M439.0 608.5h0M447.6 608.5h0M627.5 608.5h0M636.1 608.5h0M644.6 608.5h0M653.2 608.5h0M661.8 608.5h0M670.3 608.5h0M678.9 608.5h0M696.0 608.5h0M995.9 608.5h0M1004.4 608.5h0M1030.1 608.5h0M344.8 617.0h0M353.3 617.0h0M361.9 617.0h0M370.5 617.0h0M379.0 617.0h0M387.6 617.0h0M396.2 617.0h0M404.7 617.0h0M413.3 617.0h0M421.9 617.0h0M430.4 617.0h0M439.0 617.0h0M447.6 617.0h0M618.9 617.0h0M627.5 617.0h0M636.1 617.0h0M644.6 617.0h0M653.2 617.0h0M661.8 617.0h0M670.3 617.0h0M678.9 617.0h0M687.5 617.0h0M696.0 617.0h0M730.3 617.0h0M978.7 617.0h0M995.9 617.0h0M1004.4 617.0h0M1030.1 617.0h0M353.3 625.6h0M361.9 625.6h0M370.5 625.6h0M379.0 625.6h0M387.6 625.6h0M396.2 625.6h0M404.7 625.6h0M413.3 625.6h0M421.9 625.6h0M430.4 625.6h0M439.0 625.6h0M447.6 625.6h0M618.9 625.6h0M627.5 625.6h0M636.1 625.6h0M644.6 625.6h0M653.2 625.6h0M661.8 625.6h0M670.3 625.6h0M678.9 625.6h0M687.5 625.6h0M721.7 625.6h0M730.3 625.6h0M970.2 625.6h0M978.7 625.6h0M987.3 625.6h0M995.9 625.6h0M1004.4 625.6h0M1013.0 625.6h0M1030.1 625.6h0M1107.2 625.6h0M1141.5 625.6h0M361.9 634.2h0M370.5 634.2h0M379.0 634.2h0M387.6 634.2h0M396.2 634.2h0M404.7 634.2h0M413.3 634.2h0M421.9 634.2h0M430.4 634.2h0M439.0 634.2h0M447.6 634.2h0M618.9 634.2h0M627.5 634.2h0M636.1 634.2h0M644.6 634.2h0M653.2 634.2h0M661.8 634.2h0M670.3 634.2h0M678.9 634.2h0M721.7 634.2h0M961.6 634.2h0M970.2 634.2h0M978.7 634.2h0M987.3 634.2h0M995.9 634.2h0M1004.4 634.2h0M1013.0 634.2h0M1021.6 634.2h0M1030.1 634.2h0M1038.7 634.2h0M361.9 642.8h0M370.5 642.8h0M379.0 642.8h0M387.6 642.8h0M396.2 642.8h0M404.7 642.8h0M413.3 642.8h0M421.9 642.8h0M430.4 642.8h0M627.5 642.8h0M636.1 642.8h0M644.6 642.8h0M653.2 642.8h0M661.8 642.8h0M670.3 642.8h0M678.9 642.8h0M713.2 642.8h0M721.7 642.8h0M944.5 642.8h0M953.0 642.8h0M961.6 642.8h0M970.2 642.8h0M978.7 642.8h0M987.3 642.8h0M995.9 642.8h0M1004.4 642.8h0M1013.0 642.8h0M1021.6 642.8h0M1030.1 642.8h0M1038.7 642.8h0M1098.7 642.8h0M361.9 651.3h0M370.5 651.3h0M379.0 651.3h0M387.6 651.3h0M396.2 651.3h0M404.7 651.3h0M413.3 651.3h0M421.9 651.3h0M627.5 651.3h0M636.1 651.3h0M644.6 651.3h0M653.2 651.3h0M661.8 651.3h0M670.3 651.3h0M935.9 651.3h0M944.5 651.3h0M953.0 651.3h0M961.6 651.3h0M970.2 651.3h0M978.7 651.3h0M987.3 651.3h0M995.9 651.3h0M1004.4 651.3h0M1013.0 651.3h0M1021.6 651.3h0M1030.1 651.3h0M1038.7 651.3h0M1047.3 651.3h0M361.9 659.9h0M370.5 659.9h0M379.0 659.9h0M387.6 659.9h0M396.2 659.9h0M404.7 659.9h0M413.3 659.9h0M421.9 659.9h0M627.5 659.9h0M636.1 659.9h0M644.6 659.9h0M653.2 659.9h0M661.8 659.9h0M670.3 659.9h0M935.9 659.9h0M944.5 659.9h0M953.0 659.9h0M961.6 659.9h0M970.2 659.9h0M978.7 659.9h0M987.3 659.9h0M995.9 659.9h0M1004.4 659.9h0M1013.0 659.9h0M1021.6 659.9h0M1030.1 659.9h0M1038.7 659.9h0M1047.3 659.9h0M1055.8 659.9h0M361.9 668.5h0M370.5 668.5h0M379.0 668.5h0M387.6 668.5h0M396.2 668.5h0M404.7 668.5h0M413.3 668.5h0M636.1 668.5h0M644.6 668.5h0M653.2 668.5h0M661.8 668.5h0M935.9 668.5h0M944.5 668.5h0M953.0 668.5h0M961.6 668.5h0M970.2 668.5h0M978.7 668.5h0M987.3 668.5h0M995.9 668.5h0M1004.4 668.5h0M1013.0 668.5h0M1021.6 668.5h0M1030.1 668.5h0M1038.7 668.5h0M1047.3 668.5h0M1055.8 668.5h0M361.9 677.0h0M370.5 677.0h0M379.0 677.0h0M387.6 677.0h0M396.2 677.0h0M404.7 677.0h0M413.3 677.0h0M636.1 677.0h0M644.6 677.0h0M653.2 677.0h0M935.9 677.0h0M944.5 677.0h0M953.0 677.0h0M961.6 677.0h0M970.2 677.0h0M978.7 677.0h0M987.3 677.0h0M995.9 677.0h0M1004.4 677.0h0M1013.0 677.0h0M1021.6 677.0h0M1030.1 677.0h0M1038.7 677.0h0M1047.3 677.0h0M361.9 685.6h0M370.5 685.6h0M379.0 685.6h0M387.6 685.6h0M396.2 685.6h0M935.9 685.6h0M944.5 685.6h0M953.0 685.6h0M995.9 685.6h0M1004.4 685.6h0M1013.0 685.6h0M1021.6 685.6h0M1030.1 685.6h0M1038.7 685.6h0M1047.3 685.6h0M353.3 694.2h0M361.9 694.2h0M370.5 694.2h0M379.0 694.2h0M387.6 694.2h0M396.2 694.2h0M1004.4 694.2h0M1013.0 694.2h0M1021.6 694.2h0M1030.1 694.2h0M1038.7 694.2h0M361.9 702.7h0M370.5 702.7h0M379.0 702.7h0M387.6 702.7h0M1013.0 702.7h0M1021.6 702.7h0M1030.1 702.7h0M1038.7 702.7h0M361.9 711.3h0M370.5 711.3h0M379.0 711.3h0M1013.0 711.3h0M1021.6 711.3h0M1030.1 711.3h0M1115.8 711.3h0M361.9 719.9h0M370.5 719.9h0M379.0 719.9h0M1115.8 719.9h0M361.9 728.5h0M370.5 728.5h0M1021.6 728.5h0M1115.8 728.5h0M361.9 737.0h0M370.5 737.0h0M379.0 737.0h0M1021.6 737.0h0M1107.2 737.0h0M361.9 745.6h0M370.5 745.6h0M1098.7 745.6h0M361.9 754.2h0M370.5 754.2h0M404.7 754.2h0M1081.5 754.2h0M1090.1 754.2h0M370.5 762.7h0M379.0 762.7h0M1081.5 762.7h0M379.0 771.3h0M387.6 771.3h0" stroke="#63aaf6" stroke-width="7.3" stroke-linecap="round" fill="none"/>
<rect x="69.2" y="323.2" width="155.39999999999998" height="80.0" fill="rgba(27,46,72,0.52)" stroke="#eceef2" stroke-width="1.4"/>
<polyline points="224.6,340.3 259,340.3 263.7,416.4" fill="none" stroke="#eceef2" stroke-width="2.4"/>
<rect x="419.2" y="288" width="159.50000000000006" height="80.19999999999999" fill="rgba(27,46,72,0.52)" stroke="#eceef2" stroke-width="1.4"/>
<polyline points="578.7,312.6 616,312.6 623.7,390.2" fill="none" stroke="#eceef2" stroke-width="2.4"/>
<rect x="869.5" y="222" width="216.0" height="118" fill="rgba(27,46,72,0.52)" stroke="#eceef2" stroke-width="1.4"/>
<polyline points="869.5,294.25 843.75,294.25 821,505.5" fill="none" stroke="#eceef2" stroke-width="2.4"/>
<rect x="967.6" y="363.4" width="174.80000000000007" height="85.20000000000005" fill="rgba(27,46,72,0.52)" stroke="#eceef2" stroke-width="1.4"/>
<polyline points="967.6,412.8 935.5,412.8 908,469" fill="none" stroke="#eceef2" stroke-width="2.4"/>
</svg>
<div class="r" style="left:0px;top:829px;width:1200px;height:3px;background:#fff;"></div>
<div class="r" style="left:598px;top:829px;width:3px;height:568px;background:#fff;"></div>
<div class="r" style="left:0px;top:1394px;width:1200px;height:3px;background:#fff;"></div>
<div class="r" style="left:1199px;top:829px;width:1px;height:568px;background:#fff;"></div>
<div class="r" style="left:0px;top:997px;width:422px;height:70px;background:#6697da;"></div>
<div class="r" style="left:0px;top:1084.8px;width:315.6px;height:71.9px;background:#92c1f1;"></div>
<div class="r" style="left:0px;top:1172.9px;width:365.7px;height:68.8px;background:#92c1f1;"></div>
<div class="r" style="left:0px;top:1259.6px;width:438px;height:70px;background:#92c1f1;"></div>
<div class="r" style="left:641px;top:991px;width:260px;height:55px;background:#6898da;"></div>
<div class="r" style="left:901px;top:991px;width:260px;height:55px;background:#03427f;"></div>
<div class="r" style="left:641px;top:1046px;width:260px;height:55px;background:#03427f;"></div>
<div class="r" style="left:901px;top:1046px;width:260px;height:55px;background:#6898da;"></div>
<div class="r" style="left:641px;top:1101px;width:260px;height:55px;background:#6898da;"></div>
<div class="r" style="left:901px;top:1101px;width:260px;height:55px;background:#03427f;"></div>
<div class="r" style="left:641px;top:1156px;width:260px;height:55px;background:#03427f;"></div>
<div class="r" style="left:901px;top:1156px;width:260px;height:55px;background:#6898da;"></div>
<div class="r" style="left:641px;top:1211px;width:260px;height:55px;background:#6898da;"></div>
<div class="r" style="left:901px;top:1211px;width:260px;height:55px;background:#03427f;"></div>
<div class="r" style="left:641px;top:1266px;width:260px;height:56px;background:#03427f;"></div>
<div class="r" style="left:901px;top:1266px;width:260px;height:56px;background:#6898da;"></div>
<div class="t" style="left:68.40px;top:29.08px;font-size:54px;font-weight:700;color:#fff;transform:scaleX(0.9681);">Partner</div>
<div class="t" style="left:271.71px;top:29.08px;font-size:54px;font-weight:700;color:#fff;transform:scaleX(0.9443);">Class</div>
<div class="t" style="left:422.21px;top:29.08px;font-size:54px;font-weight:700;color:#fff;transform:scaleX(0.9959);">of</div>
<div class="t" style="left:489.24px;top:29.08px;font-size:54px;font-weight:700;color:#fff;transform:scaleX(1.0793);">2022</div>
<div class="t" style="left:1050.76px;top:32.11px;font-size:20.3px;font-weight:400;color:#fff;transform:scaleX(0.9448);">CLASS SIZE</div>
<div class="t" style="left:1072.15px;top:57.66px;font-size:56.5px;font-weight:700;color:#fff;transform:scaleX(1.1271);">80</div>
<div class="t" style="left:95.00px;top:335.48px;font-size:24px;font-weight:400;color:#fff;transform:scaleX(1.0172);">Americas</div>
<div class="t" style="left:131.04px;top:366.58px;font-size:24px;font-weight:400;color:#fff;transform:scaleX(1.0640);">53</div>
<div class="t" style="left:465.88px;top:300.48px;font-size:24px;font-weight:400;color:#fff;transform:scaleX(0.9606);">EMEA</div>
<div class="t" style="left:487.45px;top:331.48px;font-size:24px;font-weight:400;color:#fff;transform:scaleX(0.8480);">21</div>
<div class="t" style="left:897.25px;top:233.18px;font-size:24px;font-weight:400;color:#fff;transform:scaleX(1.0275);">Bengaluru and</div>
<div class="t" style="left:916.41px;top:264.38px;font-size:24px;font-weight:400;color:#fff;transform:scaleX(1.0456);">Hyderabad</div>
<div class="t" style="left:972.36px;top:295.08px;font-size:24px;font-weight:400;color:#fff;transform:scaleX(0.8200);">1</div>
<div class="t" style="left:993.50px;top:378.88px;font-size:24px;font-weight:400;color:#fff;transform:scaleX(1.0177);">Asia Pacific</div>
<div class="t" style="left:1049.90px;top:409.68px;font-size:24px;font-weight:400;color:#fff;">5</div>
<div class="t" style="left:59.94px;top:863.91px;font-size:40.5px;font-weight:400;color:#fff;transform:scaleX(0.9793);">Class Size</div>
<div class="t" style="left:63.99px;top:1015.61px;font-size:34px;font-weight:700;color:#0b1422;transform:scaleX(1.0135);">2022</div>
<div class="t" style="left:486.45px;top:1016.04px;font-size:33.5px;font-weight:700;color:#fff;transform:scaleX(1.1457);">80</div>
<div class="t" style="left:60.91px;top:1111.64px;font-size:20.5px;font-weight:400;color:#0b1422;transform:scaleX(1.0909);">2020</div>
<div class="t" style="left:64.06px;top:1198.44px;font-size:20.5px;font-weight:400;color:#0b1422;transform:scaleX(0.9375);">2018</div>
<div class="t" style="left:64.05px;top:1284.34px;font-size:20.5px;font-weight:400;color:#0b1422;transform:scaleX(0.9477);">2016</div>
<div class="t" style="left:493.27px;top:1109.40px;font-size:21.5px;font-weight:400;color:#fff;transform:scaleX(1.1273);">60</div>
<div class="t" style="left:494.63px;top:1198.00px;font-size:21.5px;font-weight:400;color:#fff;transform:scaleX(1.0682);">69</div>
<div class="t" style="left:495.75px;top:1284.30px;font-size:21.5px;font-weight:400;color:#fff;transform:scaleX(0.9522);">84</div>
<div class="t" style="left:640.52px;top:864.83px;font-size:40px;font-weight:400;color:#fff;transform:scaleX(1.0250);">Diversity Represented</div>
<div class="t" style="left:640.47px;top:913.23px;font-size:40px;font-weight:400;color:#fff;transform:scaleX(1.0418);">in Class of 2022</div>
<div class="t" style="left:940.94px;top:914.37px;font-size:22px;font-weight:400;color:#fff;transform:scaleX(0.7571);">*</div>
<div class="t" style="left:707.23px;top:1002.48px;font-size:30.5px;font-weight:700;color:#fff;transform:scaleX(1.0684);">23 <span style="font-weight:400;font-size:26px;position:relative;top:-2.5px">|</span> 29%</div>
<div class="t" style="left:995.00px;top:1006.69px;font-size:20.8px;font-weight:400;color:#fff;transform:scaleX(1.0243);">Women</div>
<div class="t" style="left:743.96px;top:1061.69px;font-size:20.8px;font-weight:400;color:#fff;transform:scaleX(1.0204);">Black</div>
<div class="t" style="left:985.64px;top:1057.48px;font-size:30.5px;font-weight:700;color:#fff;transform:scaleX(1.0639);">7 <span style="font-weight:400;font-size:26px;position:relative;top:-2.5px">|</span> 9%</div>
<div class="t" style="left:724.93px;top:1112.48px;font-size:30.5px;font-weight:700;color:#fff;transform:scaleX(1.0723);">2 <span style="font-weight:400;font-size:26px;position:relative;top:-2.5px">|</span> 3%</div>
<div class="t" style="left:982.82px;top:1106.69px;font-size:20.8px;font-weight:400;color:#fff;transform:scaleX(1.0917);">Hispanic/</div>
<div class="t" style="left:1001.19px;top:1128.09px;font-size:20.8px;font-weight:400;color:#fff;transform:scaleX(1.0566);">Latinx</div>
<div class="t" style="left:745.00px;top:1172.39px;font-size:20.8px;font-weight:400;color:#fff;transform:scaleX(1.0137);">Asian</div>
<div class="t" style="left:968.32px;top:1167.78px;font-size:30.5px;font-weight:700;color:#fff;transform:scaleX(1.0397);">19 <span style="font-weight:400;font-size:26px;position:relative;top:-2.5px">|</span> 24%</div>
<div class="t" style="left:724.93px;top:1222.48px;font-size:30.5px;font-weight:700;color:#fff;transform:scaleX(1.0723);">2 <span style="font-weight:400;font-size:26px;position:relative;top:-2.5px">|</span> 3%</div>
<div class="t" style="left:990.79px;top:1227.39px;font-size:20.8px;font-weight:400;color:#fff;transform:scaleX(0.9575);">LGBTQ+</div>
<div class="t" style="left:729.30px;top:1282.39px;font-size:20.8px;font-weight:400;color:#fff;transform:scaleX(1.0049);">Veterans</div>
<div class="t" style="left:985.64px;top:1277.48px;font-size:30.5px;font-weight:700;color:#fff;transform:scaleX(1.0639);">2 <span style="font-weight:400;font-size:26px;position:relative;top:-2.5px">|</span> 3%</div>
<div class="t" style="left:640.25px;top:1350.15px;font-size:14px;font-weight:400;color:#e8ebf0;transform:scaleX(1.1500);">*</div>
<div class="t" style="left:650.00px;top:1348.12px;font-size:14.5px;font-weight:400;color:#e8ebf0;">Global data based on self-identification information.</div>
<div class="t" style="left:58.51px;top:1434.01px;font-size:40.5px;font-weight:400;color:#fff;transform:scaleX(0.9957);">Class Facts</div>
<div class="t" style="left:239.83px;top:1549.41px;font-size:40.5px;font-weight:400;color:#8dbdf0;transform:scaleX(0.8846);">31%</div>
<div class="t" style="left:240.30px;top:1600.88px;font-size:18.8px;font-weight:400;color:#f4f6f9;transform:scaleX(1.0839);">Worked in more than one region</div>
<div class="t" style="left:234.62px;top:1663.31px;font-size:40.5px;font-weight:400;color:#8dbdf0;transform:scaleX(0.9268);">16 Years</div>
<div class="t" style="left:235.90px;top:1714.78px;font-size:18.8px;font-weight:400;color:#f4f6f9;transform:scaleX(1.0648);">Average tenure</div>
<div class="t" style="left:239.01px;top:1775.01px;font-size:40.5px;font-weight:400;color:#8dbdf0;transform:scaleX(0.9937);">43%</div>
<div class="t" style="left:238.40px;top:1827.68px;font-size:18.8px;font-weight:400;color:#f4f6f9;transform:scaleX(1.0665);">Joined as campus hires</div>
<div class="t" style="left:235.45px;top:1887.51px;font-size:40.5px;font-weight:400;color:#8dbdf0;transform:scaleX(0.9731);">57%</div>
<div class="t" style="left:236.60px;top:1938.48px;font-size:18.8px;font-weight:400;color:#f4f6f9;transform:scaleX(1.0790);">Joined as experienced hires</div>
<div class="t" style="left:739.58px;top:1550.01px;font-size:40.5px;font-weight:400;color:#8dbdf0;transform:scaleX(1.0098);">73</div>
<div class="t" style="left:740.51px;top:1600.68px;font-size:18.8px;font-weight:400;color:#f4f6f9;transform:scaleX(1.0941);">Schools represented</div>
<div class="t" style="left:741.33px;top:1666.31px;font-size:40.5px;font-weight:400;color:#8dbdf0;transform:scaleX(1.0696);">40%</div>
<div class="t" style="left:740.53px;top:1716.38px;font-size:18.8px;font-weight:400;color:#f4f6f9;transform:scaleX(1.0735);">Earned advanced degrees</div>
<div class="t" style="left:738.98px;top:1778.91px;font-size:40.5px;font-weight:400;color:#8dbdf0;transform:scaleX(0.8725);">17</div>
<div class="t" style="left:740.51px;top:1830.08px;font-size:18.8px;font-weight:400;color:#f4f6f9;transform:scaleX(1.0938);">Countries of citizenship</div>
<div class="t" style="left:738.95px;top:1890.71px;font-size:40.5px;font-weight:400;color:#8dbdf0;transform:scaleX(0.8850);">18</div>
<div class="t" style="left:740.53px;top:1941.38px;font-size:18.8px;font-weight:400;color:#f4f6f9;transform:scaleX(1.0745);">Languages spoken</div>
<svg class="ic" style="left:130px;top:1550px" width="80" height="75" viewBox="0 0 1200 1125"><g fill="none" stroke="#fff" stroke-width="40" stroke-linecap="round" stroke-linejoin="round"><circle cx="585" cy="570" r="435" stroke-width="52"/><path fill="#fff" stroke="none" d="M210,385 L250,385 L280,420 L310,460 L345,500 L355,540 L370,580 L400,640 L420,700 L425,760 L430,820 L460,870 L510,885 L525,860 L500,820 L520,790 L560,740 L600,690 L650,640 L690,600 L700,580 L640,550 L560,520 L520,490 L480,460 L440,450 L390,440 L340,420 L310,390 L305,370 L350,330 L380,310 L420,320 L470,320 L500,290 L520,260 L580,235 L575,212 L520,205 L470,200 L450,175 L330,225 L245,295 L200,385 Z"/><path fill="#fff" stroke="none" d="M915,330 L870,350 L840,360 L790,380 L760,420 L760,460 L790,490 L810,520 L820,560 L850,580 L900,575 L910,610 L900,640 L930,680 L920,700 L880,720 L850,760 L850,820 L860,868 L905,845 L985,745 L1022,600 L1002,450 L962,378 L928,318 Z"/></g></svg>
<svg class="ic" style="left:140px;top:1665px" width="65" height="55" viewBox="0 0 1200 1015"><g fill="none" stroke="#fff" stroke-width="40" stroke-linecap="round" stroke-linejoin="round"><rect x="185" y="205" width="810" height="730" rx="100"/><line x1="185" y1="428" x2="995" y2="428"/><ellipse cx="362" cy="205" rx="45" ry="72"/><ellipse cx="818" cy="205" rx="45" ry="72"/><rect x="336" y="543" width="104" height="104" rx="12" stroke-width="36"/><rect x="538" y="543" width="104" height="104" rx="12" stroke-width="36"/><rect x="741" y="543" width="104" height="104" rx="12" stroke-width="36"/><rect x="336" y="728" width="104" height="104" rx="12" stroke-width="36"/><rect x="538" y="728" width="104" height="104" rx="12" stroke-width="36"/><polyline points="748,775 785,808 850,745" stroke-width="36"/></g></svg>
<svg class="ic" style="left:130px;top:1770px" width="85" height="85" viewBox="0 0 1200 1200"><g fill="none" stroke="#fff" stroke-width="36" stroke-linecap="round" stroke-linejoin="round"><path d="M85,1130 V605 L245,500 H430"/><path d="M85,610 H335 L605,330 L875,610 H1130"/><path d="M770,500 H965 L1130,605 V1130 H85"/><path d="M605,330 V65 H820 L720,140 L820,210 H605"/><circle cx="605" cy="620" r="85"/><path d="M485,1130 V812 H730 V1130 M607,812 V1130"/><rect x="150" y="805" width="100" height="100" rx="8" stroke-width="33"/><rect x="305" y="805" width="100" height="100" rx="8" stroke-width="33"/><rect x="150" y="960" width="100" height="100" rx="8" stroke-width="33"/><rect x="305" y="960" width="100" height="100" rx="8" stroke-width="33"/><rect x="815" y="805" width="100" height="100" rx="8" stroke-width="33"/><rect x="970" y="805" width="100" height="100" rx="8" stroke-width="33"/><rect x="815" y="960" width="100" height="100" rx="8" stroke-width="33"/><rect x="970" y="960" width="100" height="100" rx="8" stroke-width="33"/></g></svg>
<svg class="ic" style="left:130px;top:1885px" width="85" height="75" viewBox="0 0 1200 1059"><g fill="none" stroke="#fff" stroke-width="38" stroke-linecap="round" stroke-linejoin="round"><rect x="120" y="485" width="705" height="465" rx="22"/><line x1="200" y1="615" x2="465" y2="615"/><line x1="200" y1="712" x2="380" y2="712"/><circle cx="605" cy="640" r="68" stroke-width="34"/><path d="M490,858 C490,790 530,760 565,755 L605,790 L645,755 C680,760 725,790 725,858 Z" stroke-width="34"/><path d="M165,445 C165,330 260,262 380,262 C480,262 600,295 690,315" stroke-width="34"/><path d="M722,445 C722,330 790,240 900,175 C990,125 1075,170 1068,240 C1060,330 950,365 795,345" stroke-width="34"/></g></svg>
<svg class="ic" style="left:635px;top:1550px" width="85" height="75" viewBox="0 0 1200 1059"><g fill="none" stroke="#fff" stroke-width="38" stroke-linecap="round" stroke-linejoin="round"><line x1="600" y1="105" x2="600" y2="150"/><path d="M380,580 V400 L330,350 L600,180 L870,350 L815,400 V580"/><circle cx="600" cy="360" r="88" stroke-width="34"/><polyline points="598,305 598,370 635,400" stroke-width="28"/><path d="M310,975 V800 L255,735 L600,510 L945,735 L890,800 V975 Z"/><path d="M515,975 V728 H690 V975"/><path d="M335,525 H180 L100,672 H235 M120,680 V975 H265"/><path d="M865,525 H1020 L1100,672 H965 M1080,680 V975 H935"/></g></svg>
<svg class="ic" style="left:640px;top:1665px" width="75" height="75" viewBox="0 0 1200 1200"><g fill="none" stroke="#fff" stroke-width="40" stroke-linecap="round" stroke-linejoin="round"><path d="M390,292 L230,250 L600,145 L970,250 L900,282"/><path d="M390,292 V418 Q600,345 810,418 V292"/><path d="M852,290 V510 Q866,540 895,512 V275"/><path d="M400,482 A197,197 0 1 0 790,565"/><path d="M240,1078 C240,900 340,810 455,780 L600,905 L745,780 C860,810 960,900 960,1078 Z"/><line x1="600" y1="905" x2="600" y2="962"/></g></svg>
<svg class="ic" style="left:640px;top:1780px" width="75" height="70" viewBox="0 0 1200 1120"><g fill="none" stroke="#fff" stroke-width="33" stroke-linecap="round" stroke-linejoin="round"><path d="M142,748 A475,475 0 1 1 1058,748"/><path d="M280,245 Q600,505 920,245"/><line x1="600" y1="112" x2="600" y2="518"/><path d="M505,125 Q372,285 365,488"/><path d="M695,125 Q828,285 835,488"/><ellipse cx="303" cy="637" rx="88" ry="103"/><ellipse cx="600" cy="688" rx="95" ry="108"/><ellipse cx="903" cy="637" rx="88" ry="103"/><path d="M130,1045 V905 Q130,800 300,800 Q395,800 440,832"/><line x1="200" y1="938" x2="200" y2="1045"/><path d="M400,1045 V975 Q400,862 600,862 Q800,862 800,975 V1045"/><line x1="487" y1="988" x2="487" y2="1045"/><line x1="713" y1="988" x2="713" y2="1045"/><path d="M1073,1045 V905 Q1073,800 903,800 Q808,800 763,832"/><line x1="1003" y1="938" x2="1003" y2="1045"/></g></svg>
<svg class="ic" style="left:635px;top:1895px" width="85" height="70" viewBox="0 0 1200 988"><g fill="none" stroke="#fff" stroke-width="36" stroke-linecap="round" stroke-linejoin="round"><path d="M395,762 Q362,742 398,702 Q445,640 320,592 Q152,545 152,420 Q152,182 510,182 Q865,182 865,420 Q865,640 395,762 Z"/><line x1="330" y1="365" x2="690" y2="365"/><line x1="330" y1="475" x2="690" y2="475"/><path d="M905,335 Q1050,415 1050,525 Q1050,632 900,672 Q798,702 828,772 Q848,822 798,812 L620,752"/></g></svg>

</body></html>
